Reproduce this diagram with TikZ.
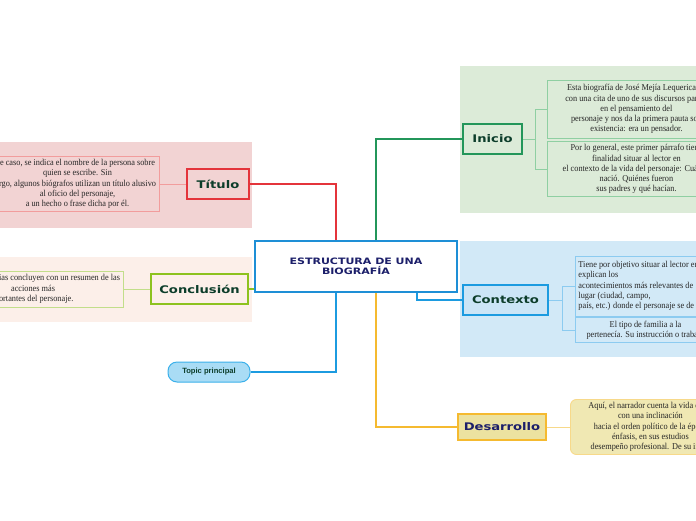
\documentclass[tikz,border=0pt]{standalone}
\usepackage{fontspec}
\setmainfont{Liberation Serif}[FakeStretch=0.92]
\newfontfamily\headfont{DejaVu Sans}[FakeStretch=1.25]
\newfontfamily\tagfont{Liberation Sans}
\usetikzlibrary{positioning}

\definecolor{titlebg}{HTML}{F2D3D3}
\definecolor{titleline}{HTML}{E4343B}
\definecolor{titlesub}{HTML}{F29C9C}
\definecolor{conclbg}{HTML}{FCEFE9}
\definecolor{conclline}{HTML}{8DC21F}
\definecolor{conclsub}{HTML}{C2DE8A}
\definecolor{inibg}{HTML}{DCEBD8}
\definecolor{iniline}{HTML}{23965A}
\definecolor{inisub}{HTML}{8FCFA2}
\definecolor{ctxbg}{HTML}{D2E9F7}
\definecolor{ctxfill}{HTML}{CBE5F6}
\definecolor{ctxline}{HTML}{1C9BE0}
\definecolor{ctxsub}{HTML}{8CCBF0}
\definecolor{devbg}{HTML}{ECE2A0}
\definecolor{devline}{HTML}{F5BA30}
\definecolor{devsub}{HTML}{F7D98A}
\definecolor{rootline}{HTML}{1E8FD6}
\definecolor{headtxt}{HTML}{0C3D2A}
\definecolor{navytxt}{HTML}{1C1F6A}
\definecolor{tagbg}{HTML}{A9DCF5}
\definecolor{tagline}{HTML}{3BB0EA}

\begin{document}
\begin{tikzpicture}[
  x=1pt, y=-1pt,
  every node/.style={font=\fontsize{9}{10.2}\selectfont, text=black!85},
  head/.style={draw, line width=1.8pt, minimum height=30pt, inner xsep=6pt, text=headtxt, font=\headfont\bfseries\fontsize{10.5}{12}\selectfont},
  note/.style={draw, line width=0.9pt, align=center, inner sep=3pt},
  link/.style={line width=1.3pt},
  sublink/.style={line width=1pt}
]

\clip (0,0) rectangle (696,520);

% Coloured areas
\fill[titlebg] (0,142) rectangle (252,228);
\fill[conclbg] (0,257) rectangle (252,322);
\fill[inibg] (460,66) rectangle (696,213);
\fill[ctxbg] (460,241) rectangle (696,357);

% Central topic
\node[draw=rootline, line width=2pt, fill=white, minimum width=202pt, minimum height=51pt, align=center, text=navytxt, font=\headfont\bfseries\fontsize{8.8}{10}\selectfont] (root) at (356,266.5) {ESTRUCTURA DE UNA\\BIOGRAFÍA};

% Titulo
\node[head, draw=titleline, fill=titlebg, minimum width=62pt] (titulo) at (218,184) {Título};
\node[note, draw=titlesub, fill=titlebg, anchor=east, minimum width=164pt, minimum height=55pt] (titulo-txt) at (160,184) {e caso, se indica el nombre de la persona sobre\\quien se escribe. Sin\\rgo, algunos biógrafos utilizan un título alusivo\\al oficio del personaje,\\a un hecho o frase dicha por él.};

% Conclusion
\node[head, draw=conclline, fill=conclbg, minimum width=97pt] (concl) at (199.5,289) {Conclusión};
\node[note, draw=conclsub, fill=conclbg, anchor=east, align=left, minimum width=128pt, minimum height=36pt] (concl-txt) at (124,289) {ias concluyen con un resumen de las\\\hspace*{12pt}acciones más\\ortantes del personaje.};

% Inicio
\node[head, draw=iniline, fill=inibg, minimum width=59pt] (inicio) at (492.5,139) {Inicio};
\node[note, draw=inisub, fill=inibg, anchor=west, minimum width=178pt, minimum height=58pt] (ini-a) at (547,109) {Esta biografía de José Mejía Lequerica co\\con una cita de uno de sus discursos para u\\en el pensamiento del\\personaje y nos da la primera pauta sob\\existencia: era un pensador.};
\node[note, draw=inisub, fill=inibg, anchor=west, minimum width=178pt, minimum height=54pt] (ini-b) at (547,169) {Por lo general, este primer párrafo tiene\\finalidad situar al lector en\\el contexto de la vida del personaje: Cuándo\\nació. Quiénes fueron\\sus padres y qué hacían.};

% Contexto
\node[head, draw=ctxline, fill=ctxfill, minimum width=85pt] (contexto) at (505.5,300) {Contexto};
\node[note, draw=ctxsub, fill=ctxbg, anchor=west, align=left, minimum height=60pt] (ctx-a) at (575,286) {Tiene por objetivo situar al lector en\\explican los\\acontecimientos más relevantes de\\lugar (ciudad, campo,\\país, etc.) donde el personaje se de};
\node[note, draw=ctxsub, fill=ctxbg, anchor=west, minimum width=140pt, minimum height=24pt] (ctx-b) at (575,330) {El tipo de familia a la\\pertenecía. Su instrucción o trabajo};

% Desarrollo
\node[head, draw=devline, fill=devbg, text=navytxt, minimum width=82pt, minimum height=26pt] (desarrollo) at (502,427) {Desarrollo};
\node[note, draw=devsub, fill=devbg!80!white, rounded corners=6pt, anchor=west, minimum width=160pt, minimum height=55pt] (dev-a) at (570,427) {Aquí, el narrador cuenta la vida de M\\con una inclinación\\hacia el orden político de la época\\énfasis, en sus estudios\\desempeño profesional. De su infan};

% Floating topic
\node[draw=tagline, fill=tagbg, line width=1pt, rounded corners=9pt, minimum width=82pt, minimum height=20pt, font=\tagfont\bfseries\fontsize{7.6}{9}\selectfont, text=headtxt] (topic) at (209,372) {Topic principal};

% Main branches
\draw[link, titleline] ([xshift=-20pt]root.north) |- (titulo);
\draw[link, iniline] ([xshift=20pt]root.north) |- (inicio);
\draw[link, ctxline] ([xshift=61pt]root.south) |- (contexto);
\draw[link, devline] ([xshift=20pt]root.south) |- (desarrollo);
\draw[link, ctxline] ([xshift=-20pt]root.south) |- (topic);
\draw[link, conclline] (concl) -- (concl -| root.west);

% Sub branches
\draw[sublink, titlesub] (titulo) -- (titulo-txt);
\draw[sublink, conclsub] (concl) -- (concl-txt);
\draw[sublink, inisub] (inicio.east) -- ++(13,0) coordinate (ini-fork) (ini-fork) |- (ini-a) (ini-fork) |- (ini-b);
\draw[sublink, ctxsub] (contexto.east) -- ++(14,0) coordinate (ctx-fork) (ctx-fork) |- (ctx-a) (ctx-fork) |- (ctx-b);
\draw[sublink, devsub] (desarrollo) -- (dev-a);

\end{tikzpicture}
\end{document}
